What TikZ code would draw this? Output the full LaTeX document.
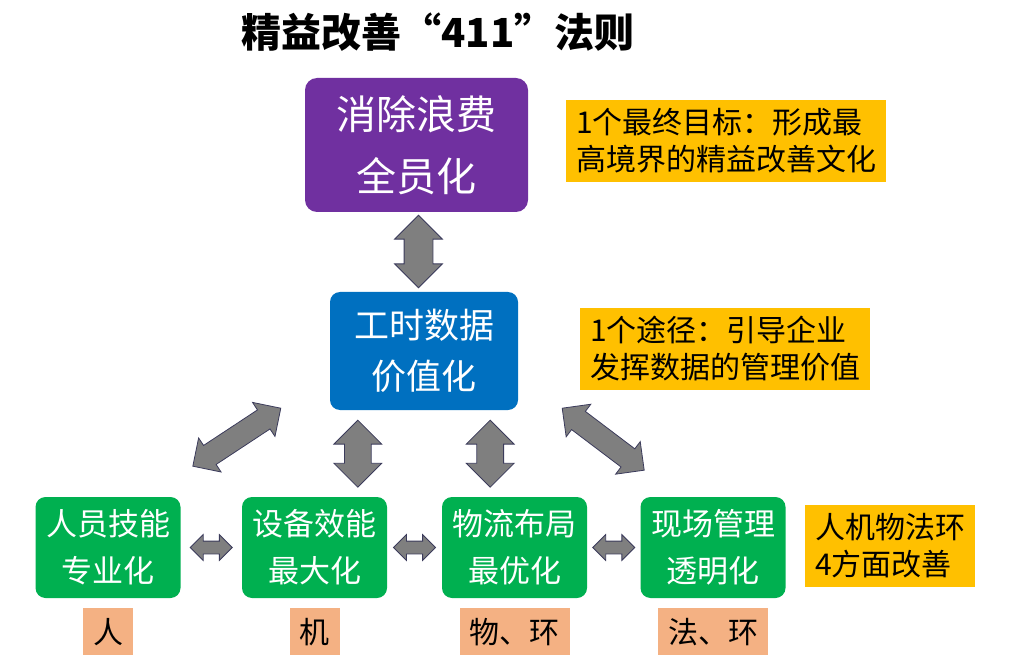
\documentclass[tikz,border=0pt]{standalone}
\usepackage{fontspec}
\setmainfont{Noto Sans CJK SC}
\usetikzlibrary{positioning,shapes.arrows,calc}
\definecolor{plum}{HTML}{7030A0}
\definecolor{azure}{HTML}{0070C0}
\definecolor{grass}{HTML}{00B050}
\definecolor{amber}{HTML}{FFC000}
\definecolor{peach}{HTML}{F4B183}
\definecolor{ash}{HTML}{7F7F7F}
\definecolor{ink}{HTML}{3B3B5B}
\tikzset{
  goalbox/.style={fill=plum,rounded corners=12pt,text=white,align=center,minimum width=223pt,minimum height=134pt,font=\fontsize{40}{62}\selectfont},
  databox/.style={fill=azure,rounded corners=10pt,text=white,align=center,minimum width=188pt,minimum height=118pt,font=\fontsize{35}{51}\selectfont},
  areabox/.style={fill=grass,rounded corners=10pt,text=white,align=center,minimum width=145pt,minimum height=101pt,font=\fontsize{31}{47}\selectfont},
  notebox/.style={fill=amber,align=left,inner xsep=10pt,minimum height=82pt,font=\fontsize{30}{37}\selectfont},
  tagbox/.style={fill=peach,inner xsep=10pt,minimum height=47pt,font=\fontsize{30}{36}\selectfont},
  dblarr/.style={shape=double arrow,fill=ash,draw=ink,line width=0.8pt,inner xsep=0pt,double arrow head indent=0pt},
}
% block arrow: name, from, to, half shaft, head extend
\newcommand{\blockarr}[5]{%
  \path let \p1=($(#3)-(#2)$), \n1={atan2(\y1,\x1)}, \n2={veclen(\x1,\y1)} in
    node[dblarr,minimum height=\n2,inner ysep=#4,double arrow head extend=#5,rotate=\n1] (#1) at ($(#2)!0.5!(#3)$) {};}
\begin{document}
\begin{tikzpicture}[x=1pt,y=-1pt]
\useasboundingbox (0,0) rectangle (1009,660);
\node[font=\fontsize{40}{46}\selectfont\bfseries] (title) at (438,32) {精益改善“411”法则};
\node[goalbox] (goal) at (416.5,145) {消除浪费\\全员化};
\node[databox] (data) at (424,351) {工时数据\\价值化};
\node[notebox,minimum width=320pt] (note1) at (726,141) {1个最终目标：形成最\\高境界的精益改善文化};
\node[notebox,minimum width=290pt] (note2) at (725,349) {1个途径：引导企业\\发挥数据的管理价值};
\node[areabox] (g1) at (108,547.5) {人员技能\\专业化};
\node[areabox] (g2) at (314.5,547.5) {设备效能\\最大化};
\node[areabox] (g3) at (514.5,547.5) {物流布局\\最优化};
\node[areabox] (g4) at (713,547.5) {现场管理\\透明化};
\node[notebox,minimum width=170pt] (note3) at (890,546) {人机物法环\\4方面改善};
\node[tagbox,below=10pt of g1] (t1) {人};
\node[tagbox,below=10pt of g2] (t2) {机};
\node[tagbox,below=10pt of g3] (t3) {物、环};
\node[tagbox,below=10pt of g4] (t4) {法、环};
% arrows
\coordinate (a0) at ($(goal.south)+(2,3)$);
\coordinate (b0) at ($(goal.south |- data.north)+(2,-4)$);
\blockarr{v0}{a0}{b0}{14pt}{9.5pt}
\coordinate (a1) at ($(data.south west)+(-137,56)$);
\coordinate (b1) at ($(data.south west)+(-49,-2)$);
\blockarr{d1}{a1}{b1}{11pt}{9pt}
\coordinate (a2) at ($(data.south east)+(44,-2)$);
\coordinate (b2) at ($(data.south east)+(126,60)$);
\blockarr{d2}{a2}{b2}{11pt}{9pt}
\coordinate (a3) at ($(data.south west)+(28,10)$);
\coordinate (b3) at ($(data.south west)+(28,77)$);
\blockarr{v1}{a3}{b3}{13pt}{10.5pt}
\coordinate (a4) at ($(data.south east)+(-28,10)$);
\coordinate (b4) at ($(data.south east)+(-28,77)$);
\blockarr{v2}{a4}{b4}{13pt}{10.5pt}
\foreach \l/\r [count=\i] in {g1/g2,g2/g3,g3/g4}{
  \coordinate (h\i) at ($(\l.east)!0.5!(\r.west)$);
  \coordinate (hl\i) at ($(h\i)+(-21,0)$);
  \coordinate (hr\i) at ($(h\i)+(21,0)$);
  \blockarr{s\i}{hl\i}{hr\i}{6pt}{6.5pt}
}
\end{tikzpicture}
\end{document}
